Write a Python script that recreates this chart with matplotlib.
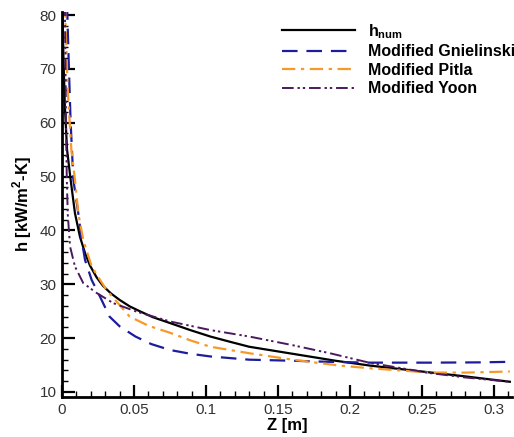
import numpy as np
import matplotlib
matplotlib.use('Agg')
import matplotlib.pyplot as plt
from matplotlib.ticker import MultipleLocator

plt.rcParams['font.family'] = ['Liberation Sans', 'DejaVu Sans']
plt.rcParams['mathtext.fontset'] = 'custom'
plt.rcParams['mathtext.rm'] = 'Liberation Sans:bold'
plt.rcParams['mathtext.bf'] = 'Liberation Sans:bold'

# h_num (numerical)
z_num = [0.0003, 0.001, 0.002, 0.0035, 0.006, 0.009, 0.0125, 0.016, 0.0194,
         0.024, 0.0285, 0.034, 0.040, 0.047, 0.054, 0.063, 0.075, 0.089,
         0.103, 0.117, 0.13, 0.16, 0.19, 0.214, 0.25, 0.28, 0.311]
h_num = [82, 72, 63, 55, 49.4, 43.2, 38.8, 35.8, 33.5,
         31.3, 29.7, 28.3, 27.1, 25.9, 25.0, 23.9, 22.8, 21.5,
         20.3, 19.3, 18.4, 17.1, 15.8, 14.9, 13.8, 12.9, 11.9]

# Modified Gnielinski
z_gn = [0.0035, 0.0048, 0.006, 0.0079, 0.0113, 0.0137, 0.016, 0.0206, 0.0264,
        0.033, 0.040, 0.051, 0.062, 0.075, 0.089, 0.103, 0.13, 0.16, 0.186,
        0.214, 0.256, 0.29, 0.311]
h_gn = [82, 70, 60, 49.4, 43.2, 38.2, 34.5, 30.8, 27.7,
        24.0, 22.2, 20.3, 18.9, 17.8, 17.1, 16.6, 16.0, 15.8, 15.6,
        15.45, 15.45, 15.5, 15.6]

# Modified Pitla
z_pi = [0.002, 0.004, 0.0065, 0.009, 0.0113, 0.0148, 0.0206, 0.031, 0.047,
        0.06, 0.075, 0.089, 0.103, 0.13, 0.16, 0.193, 0.214, 0.256, 0.28, 0.311]
h_pi = [82, 66, 55, 49.4, 43.2, 38.2, 33.3, 28.9, 24.0,
        22.3, 21.0, 19.6, 18.4, 17.2, 16.0, 14.9, 14.4, 13.6, 13.6, 13.8]

# Modified Yoon
z_yo = [0.002, 0.0028, 0.0033, 0.004, 0.0056, 0.009, 0.0148, 0.024, 0.0356,
        0.052, 0.075, 0.103, 0.13, 0.16, 0.186, 0.214, 0.256, 0.28, 0.311]
h_yo = [82, 60, 50, 43, 37, 33.3, 30.2, 28.4, 26.5,
        24.9, 23.1, 21.5, 20.3, 18.7, 17.2, 15.4, 13.5, 12.7, 11.9]

fig = plt.figure(figsize=(5.14, 4.37), dpi=100)
ax = fig.add_axes([62/514, 1 - 397/437, 450/514, 385/437])

ax.plot(z_num, h_num, color='black', lw=1.6, label=r'h$_{\rm num}$')
ax.plot(z_gn, h_gn, color='#1c1c9c', lw=1.6, dashes=(7, 4), label='Modified Gnielinski')
ax.plot(z_pi, h_pi, color='#f59a2a', lw=1.6, dashes=(6, 2.5, 1.5, 2.5), label='Modified Pitla')
ax.plot(z_yo, h_yo, color='#4a1a5c', lw=1.4, dashes=(6, 2, 1.2, 1.5, 1.2, 2), label='Modified Yoon')

ax.set_xlim(0, 0.3125)
ax.set_ylim(9.07, 80.56)
ax.xaxis.set_minor_locator(MultipleLocator(0.01))
ax.yaxis.set_major_locator(MultipleLocator(10))
ax.yaxis.set_minor_locator(MultipleLocator(2))
ax.set_xticks([0, 0.05, 0.1, 0.15, 0.2, 0.25, 0.3])
ax.set_xticklabels(['0', '0.05', '0.1', '0.15', '0.2', '0.25', '0.3'])

for s in ['top', 'right']:
    ax.spines[s].set_visible(False)
for s in ['left', 'bottom']:
    ax.spines[s].set_linewidth(2)

ax.tick_params(which='major', direction='in', length=9, width=1.6, labelsize=11,
               labelcolor='#333333', pad=4)
ax.tick_params(which='minor', direction='in', length=4.5, width=1)

ax.set_xlabel('Z [m]', fontsize=12, fontweight='bold', labelpad=1)
ax.set_ylabel(r'h [kW/m$^{2}$-K]', fontsize=12, fontweight='bold', labelpad=4)

leg = ax.legend(loc='upper left', bbox_to_anchor=(282/514, 1 - 22/437),
                bbox_transform=fig.transFigure, frameon=False,
                prop={'size': 11.5, 'weight': 'bold'}, handlelength=4.6,
                handletextpad=0.8, labelspacing=0.22, borderpad=0, borderaxespad=0)

fig.savefig('out.png', dpi=100)
